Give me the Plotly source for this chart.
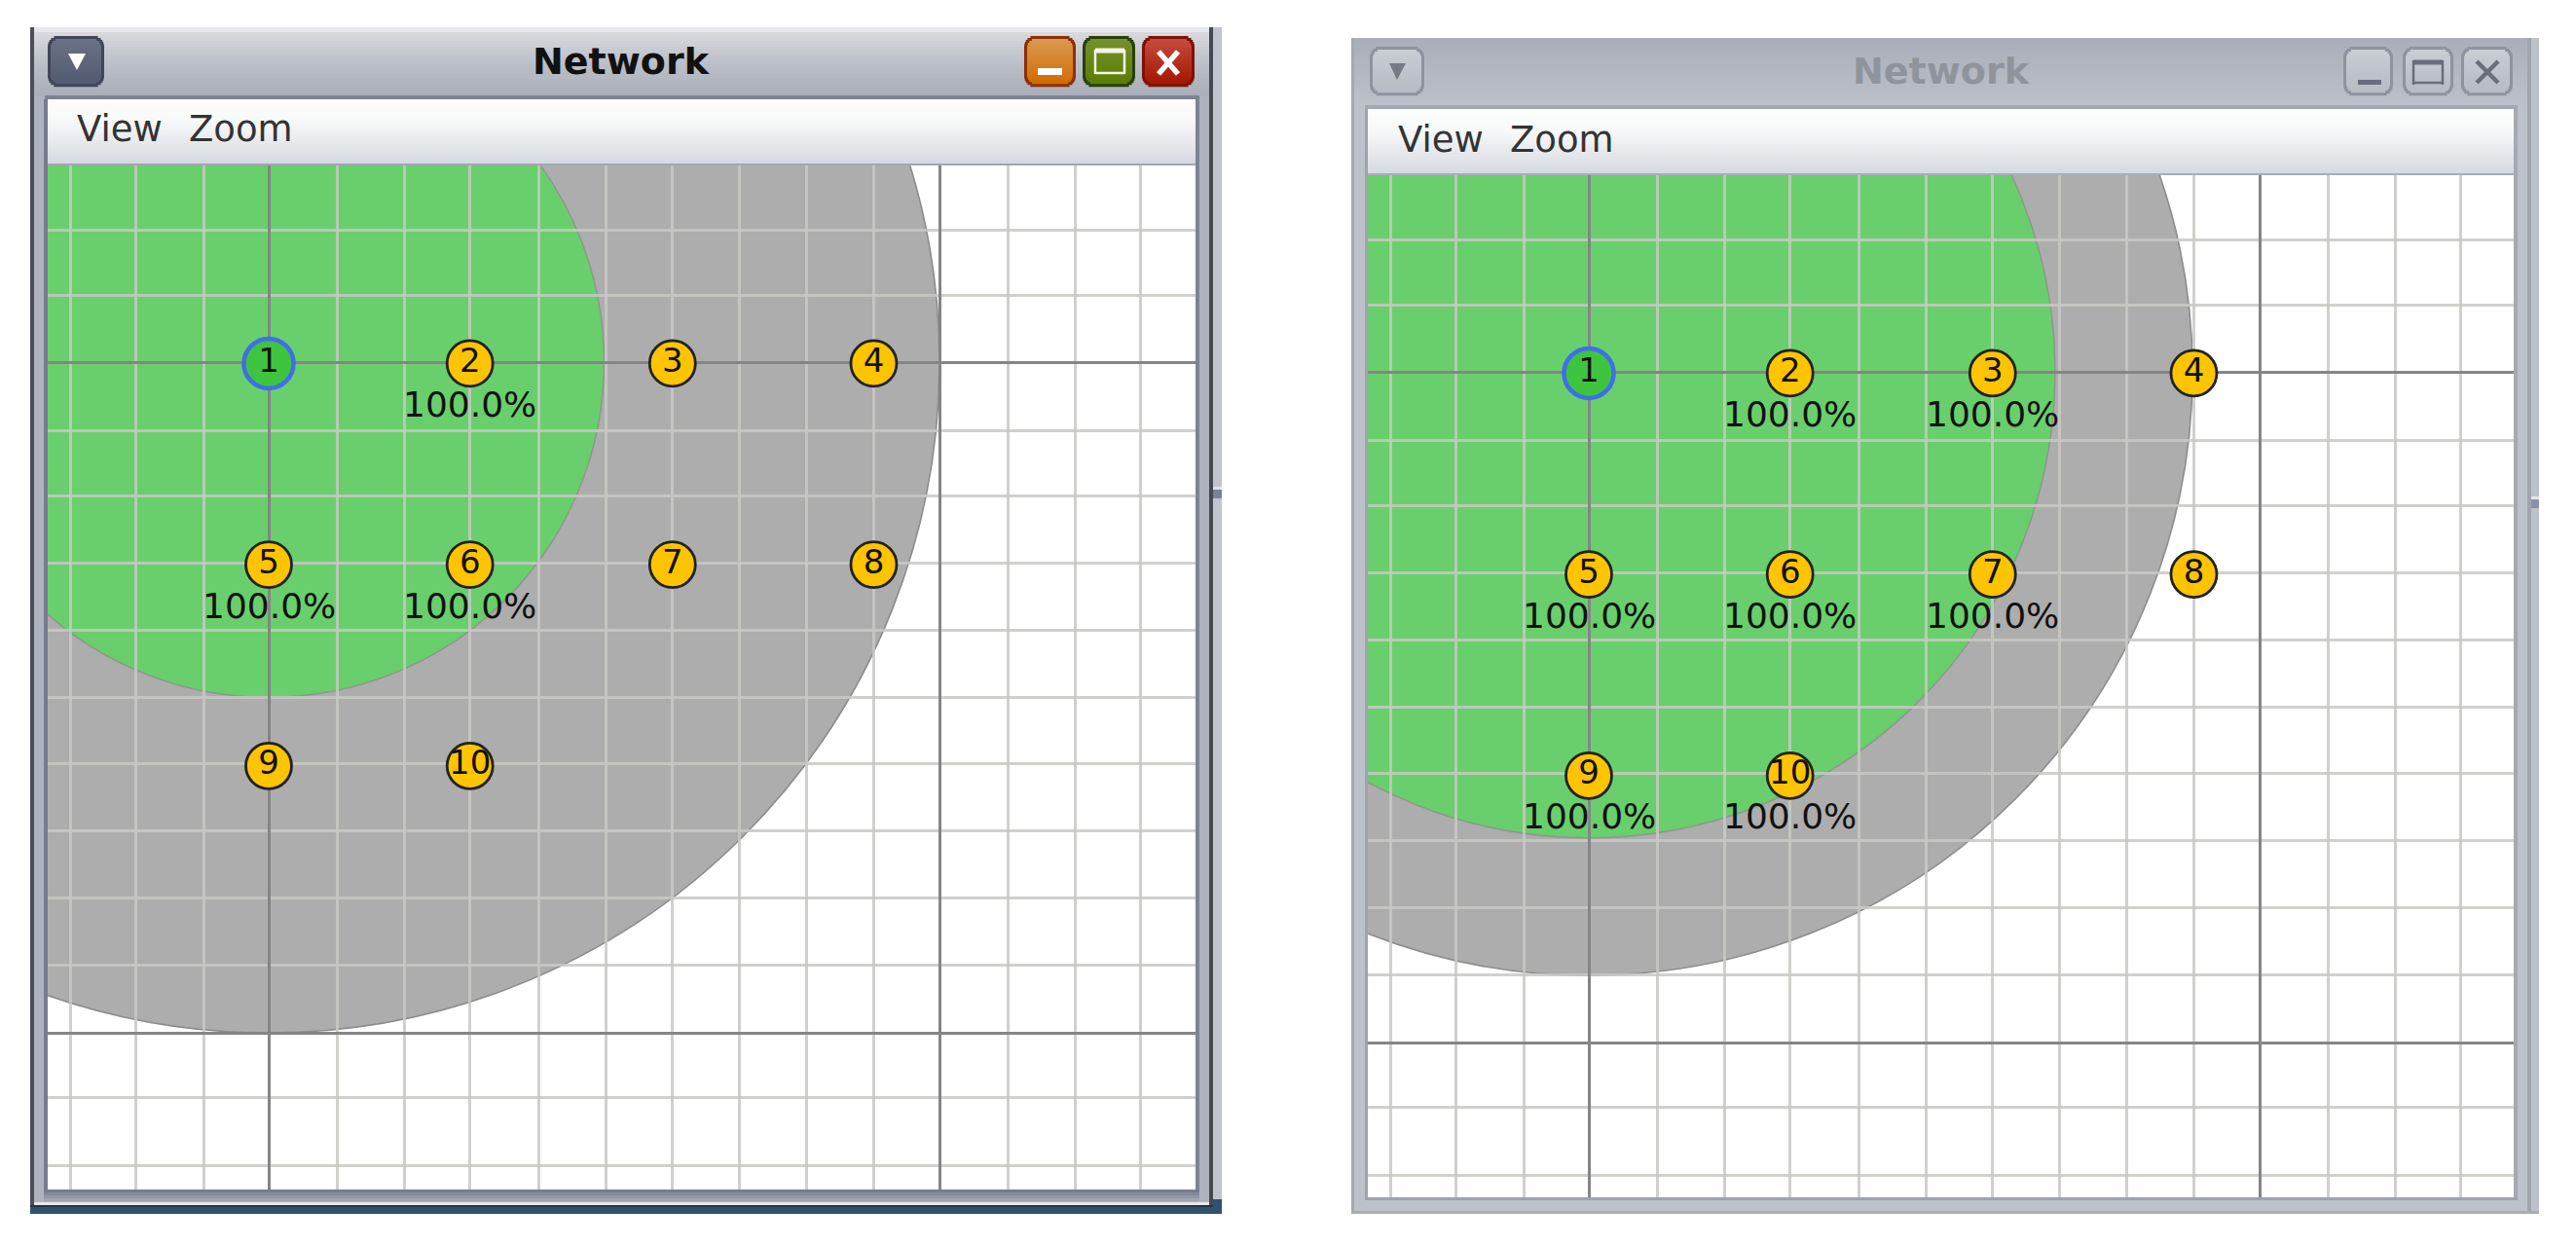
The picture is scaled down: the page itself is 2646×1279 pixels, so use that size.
import math
import plotly.graph_objects as go

W, H = 2646, 1279

# ---------- data (grid cells, origin at node 1) ----------
node_names = ["1", "2", "3", "4", "5", "6", "7", "8", "9", "10"]
node_x = [0, 3, 6.02, 9.02, 0, 3, 6.02, 9.02, 0, 3]
node_y = [0.02, 0.02, 0.02, 0.02, 3.02, 3.02, 3.02, 3.02, 6.02, 6.02]
left_labels = ["", "100.0%", "", "", "100.0%", "100.0%", "", "", "", ""]
right_labels = ["", "100.0%", "100.0%", "", "100.0%", "100.0%", "100.0%", "", "100.0%", "100.0%"]
left_radii = [10, 5]
right_radii = [9, 6.95]
grid_x = [-2.96, -1.98, -0.97, 1.016, 2.03, 3.0, 4.03, 5.03, 6.02, 7.02, 8.02, 9.02, 11.02, 12.03, 13.0]
grid_y = [-1.97, -1.0, 1.03, 2.0, 3.0, 4.0, 5.0, 5.99, 6.99, 7.99, 8.99, 10.96, 11.98]
title_text = "Network"
menu_items = ["View", "Zoom"]

shapes, annots = [], []
fx = lambda x: x / W
fy = lambda y: 1 - y / H


def rect(x0, y0, x1, y1, c, layer="below"):
    shapes.append(dict(type="rect", xref="paper", yref="paper", x0=fx(x0), x1=fx(x1),
                       y0=fy(y0), y1=fy(y1), fillcolor=c, line=dict(width=0), layer=layer))


def hexrgb(c):
    return [int(c[i:i + 2], 16) for i in (1, 3, 5)]


def mix(stops, t):
    for (t0, c0), (t1, c1) in zip(stops, stops[1:]):
        if t <= t1:
            k = 0 if t1 == t0 else (t - t0) / (t1 - t0)
            a, b = hexrgb(c0), hexrgb(c1)
            return "#%02x%02x%02x" % tuple(round(a[i] + (b[i] - a[i]) * k) for i in range(3))
    return stops[-1][1]


def vgrad(x0, y0, x1, y1, stops, step=3):
    y = y0
    while y < y1:
        e = min(y + step, y1)
        rect(x0, y, x1, e + 0.4, mix(stops, (y - y0) / (y1 - y0)))
        y = e


def rounded(x0, y0, x1, y1, r, stops, step=2):
    y = y0
    while y < y1:
        e = min(y + step, y1)
        m = (y + e) / 2
        d = 0
        if m < y0 + r:
            d = r - math.sqrt(max(r * r - (y0 + r - m) ** 2, 0))
        elif m > y1 - r:
            d = r - math.sqrt(max(r * r - (m - y1 + r) ** 2, 0))
        rect(x0 + d, y, x1 - d, e + 0.3, mix(stops, (m - y0) / (y1 - y0)))
        y = e


def button(x0, y0, x1, y1, border, stops):
    rounded(x0, y0, x1, y1, 11, [(0, border), (1, border)])
    rounded(x0 + 3, y0 + 3, x1 - 3, y1 - 3, 9, stops)


def poly(pts, c):
    p = "M " + " L ".join(f"{fx(x)},{fy(y)}" for x, y in pts) + " Z"
    shapes.append(dict(type="path", xref="paper", yref="paper", path=p, fillcolor=c,
                       line=dict(width=0), layer="above"))


def seg(x0, y0, x1, y1, c, w):
    shapes.append(dict(type="line", xref="paper", yref="paper", x0=fx(x0), x1=fx(x1),
                       y0=fy(y0), y1=fy(y1), line=dict(color=c, width=w), layer="above"))


def text(x, y, s, size, color, bold=False, anchor="center"):
    annots.append(dict(xref="paper", yref="paper", x=fx(x), y=fy(y), text=f"<b>{s}</b>" if bold else s,
                       showarrow=False, xanchor=anchor, yanchor="middle",
                       font=dict(family="DejaVu Sans", size=size, color=color)))


MENU = [(0, "#fbfcfc"), (0.3, "#f8f9f9"), (0.7, "#e4e6ea"), (1, "#d4d8e0")]

# ---------- left window chrome (active) ----------
rect(31, 28, 1255, 1247, "#2f5270")
rect(31, 28, 35, 1238, "#4b4f58")
rect(1242, 28, 1246, 1238, "#444852")
rect(1246, 28, 1255, 1232, "#c0c5cd")
rect(1246, 500, 1255, 503, "#e0e2e6")
rect(1246, 503, 1255, 512, "#7a8296")
rect(35, 28, 1242, 1235, "#aeb3c0")
rect(35, 1235, 1242, 1238, "#e8e9ea")
rect(31, 1238, 1246, 1240, "#26333f")
rect(35, 28, 1242, 33, "#e6e8eb")
vgrad(35, 33, 1242, 98, [(0, "#d7d9dd"), (0.45, "#bcc0c8"), (1, "#a8adb9")])
rect(46, 98, 1232, 102, "#7d8395")
rect(45, 102, 49, 1226, "#767c8e")
rect(1228, 102, 1232, 1226, "#7d8395")
vgrad(49, 102, 1228, 168, MENU)
rect(49, 168, 1228, 170, "#a1a6b2")
vgrad(45, 1222, 1232, 1234, [(0, "#767c8e"), (1, "#aeb3c0")])
rect(49, 170, 1228, 1222, "#ffffff")

button(49, 37, 107, 89, "#41465a", [(0, "#6b7286"), (1, "#525a70")])
poly([(70, 55), (88, 55), (79, 72)], "#ffffff")
button(1052, 37, 1105, 89, "#8c2f06", [(0, "#dc9a52"), (1, "#d06c02")])
rect(1066, 70, 1091, 77, "#ffffff", "above")
button(1112, 37, 1166, 89, "#27400a", [(0, "#76912c"), (1, "#5c7c02")])
for a in [(1125, 52, 1155, 52, 5), (1125, 75, 1155, 75, 2.5), (1125, 51, 1125, 76, 2.5), (1155, 51, 1155, 76, 2.5)]:
    seg(a[0], a[1], a[2], a[3], "#f2f4ea", a[4])
button(1173, 37, 1227, 89, "#7d1208", [(0, "#c64c3e"), (1, "#a21600")])
seg(1190, 53, 1210, 76, "#ffffff", 5.5)
seg(1210, 53, 1190, 76, "#ffffff", 5.5)

text(638, 63, title_text, 38, "#111111", bold=True)
text(77, 132, menu_items[0], 37, "#333333", anchor="left")
text(192, 132, menu_items[1], 37, "#333333", anchor="left")

# ---------- right window chrome (inactive) ----------
rect(1388, 39, 2608, 1247, "#bcc1ca")
rect(1388, 39, 1391, 1247, "#a4a9b3")
rect(2596, 39, 2600, 1247, "#9fa4ae")
rect(1388, 1244, 2608, 1247, "#a9aeb6")
rect(2600, 510, 2608, 513, "#e4e6ea")
rect(2600, 513, 2608, 522, "#8a93a6")
vgrad(1391, 39, 2596, 108, [(0, "#a9aeb8"), (1, "#bcc1ca")])
rect(1402, 108, 2586, 112, "#a2a7b2")
rect(1402, 112, 1405, 1233, "#9ea3ae")
rect(2582, 112, 2586, 1233, "#a4a9b4")
rect(1402, 1230, 2586, 1233, "#9ea3ae")
vgrad(1405, 112, 2582, 178, MENU)
rect(1405, 178, 2582, 180, "#a8adb8")
rect(1405, 180, 2582, 1230, "#ffffff")

for x0, x1 in [(1407, 1463), (2407, 2458), (2468, 2520), (2528, 2581)]:
    button(x0, 48, x1, 98, "#8e939f", [(0, "#c9cdd4"), (1, "#b6bbc4")])
poly([(1427, 65), (1444, 65), (1435, 82)], "#747a86")
rect(2422, 82, 2446, 87, "#686e7c", "above")
for a in [(2479, 64, 2509, 64, 5), (2479, 85, 2509, 85, 2.5), (2479, 62, 2479, 87, 2.5), (2509, 62, 2509, 87, 2.5)]:
    seg(a[0], a[1], a[2], a[3], "#686e7c", a[4])
seg(2544, 63, 2566, 85, "#686e7c", 4.5)
seg(2566, 63, 2544, 85, "#686e7c", 4.5)

text(1994, 73, title_text, 38, "#8f949c", bold=True)
text(1434, 143, menu_items[0], 37, "#333333", anchor="left")
text(1549, 143, menu_items[1], 37, "#333333", anchor="left")

# ---------- plot canvases ----------
CELL = 68.9
canvas = {
    "": dict(box=(49, 170, 1228, 1222), origin=(276, 372), radii=left_radii, labels=left_labels),
    "2": dict(box=(1405, 180, 2582, 1230), origin=(1632, 382), radii=right_radii, labels=right_labels),
}
fig = go.Figure()
layout_axes = {}
for key, c in canvas.items():
    x0, y0, x1, y1 = c["box"]
    ox, oy = c["origin"]
    common = dict(showticklabels=False, ticks="", showline=False, zeroline=False, tick0=0, dtick=10,
                  showgrid=True, gridcolor="#858585", gridwidth=2.6, fixedrange=True)
    minor = dict(tickmode="array", showgrid=True, gridcolor="rgba(200,200,196,0.85)", gridwidth=2.8, ticks="")
    layout_axes["xaxis" + key] = dict(common, domain=[fx(x0), fx(x1)], minor=dict(minor, tickvals=grid_x),
                                      range=[(x0 - ox) / CELL, (x1 - ox) / CELL], anchor="y" + key)
    layout_axes["yaxis" + key] = dict(common, domain=[fy(y1), fy(y0)], minor=dict(minor, tickvals=grid_y),
                                      range=[(y1 - oy) / CELL, (y0 - oy) / CELL], anchor="x" + key)
    for r, col, edge in zip(c["radii"], ["#adadad", "#69cf6c"], ["#8c8c8c", "#8c9a8c"]):
        shapes.append(dict(type="circle", xref="x" + key, yref="y" + key, x0=-r, x1=r, y0=-r, y1=r,
                           fillcolor=col, line=dict(color=edge, width=1.6), layer="below"))
    fig.add_trace(go.Scatter(
        x=node_x, y=node_y, text=node_names, mode="markers+text", textposition="middle center",
        xaxis="x" + key, yaxis="y" + key, showlegend=False, hoverinfo="skip", cliponaxis=False,
        textfont=dict(family="DejaVu Sans", size=34, color="#111111"),
        marker=dict(size=[51] + [47] * 9, color=["#3fc440"] + ["#ffc400"] * 9, opacity=1,
                    line=dict(color=["#3f6fe8"] + ["#222222"] * 9, width=[4.5] + [2.8] * 9))))
    for nx, ny, lab in zip(node_x, node_y, c["labels"]):
        if lab:
            annots.append(dict(xref="x" + key, yref="y" + key, x=nx, y=ny, text=lab, showarrow=False,
                               yshift=-42, xanchor="center", yanchor="middle",
                               font=dict(family="DejaVu Sans", size=36, color="#111111")))

fig.update_layout(width=W, height=H, autosize=False, margin=dict(l=0, r=0, t=0, b=0, pad=0),
                  paper_bgcolor="#ffffff", plot_bgcolor="#ffffff", shapes=shapes, annotations=annots,
                  hovermode=False, showlegend=False, **layout_axes)
fig.write_html("out.html", config=dict(displayModeBar=False),
               post_script="document.body.style.margin='0';document.body.style.overflow='hidden';")
